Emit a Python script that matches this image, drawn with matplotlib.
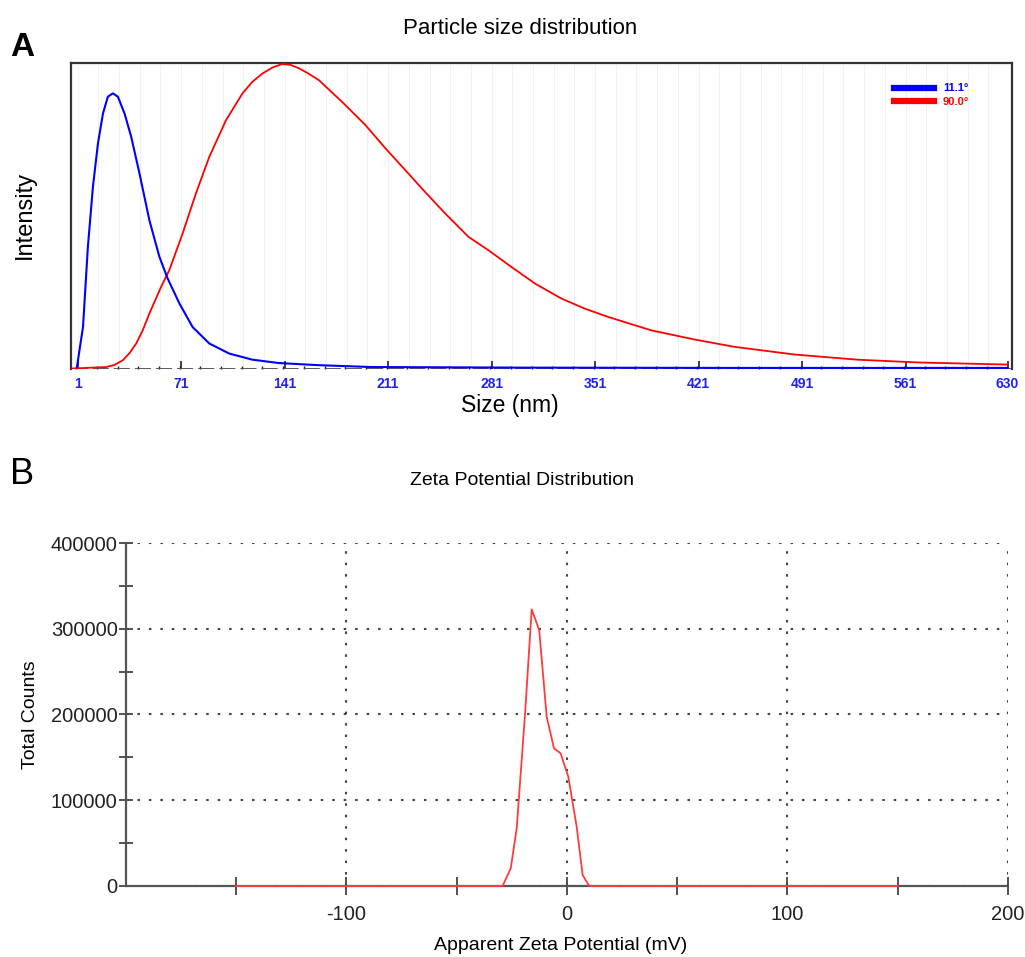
import matplotlib
matplotlib.use("Agg")
from matplotlib import pyplot as plt
from matplotlib.lines import Line2D
from matplotlib.ticker import MultipleLocator

plt.rcParams["font.family"] = ["Liberation Sans", "DejaVu Sans"]
plt.rcParams["axes.unicode_minus"] = False

# --- panel A: particle size distribution (intensity, normalised) ---
size_blue = [0.5, 4.6, 7.9, 11.3, 14.7, 18.1, 21.4, 24.8, 28.2, 32.7, 37.2, 42.8,
             49.5, 56.3, 61.9, 69.8, 78.7, 90, 103.5, 119.2, 137, 164, 199, 300, 450, 630]
int_blue = [0.005, 0.136, 0.398, 0.594, 0.736, 0.834, 0.889, 0.900, 0.889, 0.834, 0.758, 0.638,
            0.485, 0.365, 0.294, 0.213, 0.136, 0.082, 0.049, 0.029, 0.018, 0.011, 0.005, 0.003, 0.002, 0.002]

size_red = [-3, 20.3, 26, 31.5, 36, 40.6, 45, 49.5, 57.4, 63, 72, 81, 90, 101.3, 112.5, 119, 126,
            133, 139.4, 145, 150.7, 157, 164.2, 171, 179.9, 195.7, 209.2, 222.6, 233.8, 249.6,
            265.3, 278.8, 294.5, 310.3, 328.2, 344, 359.7, 388.9, 418.2, 445.2, 485.6, 528.3,
            568.8, 629.5]
int_red = [0.0, 0.005, 0.012, 0.027, 0.050, 0.082, 0.125, 0.18, 0.267, 0.322, 0.442, 0.573,
           0.692, 0.812, 0.900, 0.937, 0.965, 0.985, 0.996, 0.993, 0.982, 0.965, 0.943, 0.912,
           0.872, 0.796, 0.720, 0.649, 0.589, 0.507, 0.431, 0.387, 0.332, 0.278, 0.229, 0.196,
           0.169, 0.125, 0.095, 0.071, 0.046, 0.029, 0.020, 0.013]

size_ticks = [1, 71, 141, 211, 281, 351, 421, 491, 561, 630]
legend_labels = ["11.1°", "90.0°"]

# --- panel B: zeta potential distribution ---
zeta_mv = [-150, -29.2, -25.5, -22.8, -19.0, -16.0, -12.6, -9.2, -5.9, -2.9, 0.6, 4.4, 7.1, 10.1, 150]
zeta_counts = [0, 0, 20600, 67300, 201400, 322600, 298500, 197400, 160600, 154700,
               127500, 69200, 12800, 0, 0]

fig = plt.figure(figsize=(10.25, 9.57), dpi=100)

# ---------------- A ----------------
ax = fig.add_axes([0.0693, 0.6149, 0.918, 0.3195])
ax.plot(size_blue, int_blue, color="#0000ff", lw=1.5, zorder=4)
ax.plot(size_red, int_red, color="#ff0000", lw=1.3, zorder=3)
ax.axhline(0, color="#4a4a4a", lw=2, dashes=(5.8, 1.8), zorder=2)
ax.set_xlim(-3.5, 633)
ax.set_ylim(0, 1.0)
ax.set_yticks([])
ax.set_xticks(size_ticks)
ax.xaxis.set_minor_locator(MultipleLocator(14))
ax.set_xticklabels([str(t) for t in size_ticks], color="#2020ff", fontsize=10, fontweight="bold")
ax.tick_params(axis="x", which="major", direction="in", length=6, width=1.2, color="#222222", pad=6)
ax.tick_params(axis="x", which="minor", direction="in", length=2.5, width=1, color="#222222")
for t in range(1, 631, 14):
    ax.axvline(t, color="#f1f1f1", lw=0.8, zorder=0)
for s in ["top", "left", "right"]:
    ax.spines[s].set_color("#333333")
    ax.spines[s].set_linewidth(1.6)
ax.spines["bottom"].set_visible(False)

handles = [Line2D([], [], color="#0000ff", lw=4.5), Line2D([], [], color="#ff0000", lw=4.5)]
leg = ax.legend(handles, legend_labels, loc="upper right", bbox_to_anchor=(0.965, 0.965),
                frameon=False, handlelength=3.6, handletextpad=0.8, labelspacing=0.35,
                prop={"size": 8, "weight": "bold"})
for txt, c in zip(leg.get_texts(), ["#0000ff", "#ff0000"]):
    txt.set_color(c)

fig.text(0.507, 0.9707, "Particle size distribution", ha="center", va="center", fontsize=16)
fig.text(0.010, 0.950, "A", ha="left", va="center", fontsize=24, fontweight="bold")
fig.text(0.0244, 0.775, "Intensity", ha="center", va="center", rotation=90, fontsize=17)
fig.text(0.4976, 0.576, "Size (nm)", ha="center", va="center", fontsize=16.5)

# ---------------- B ----------------
bx = fig.add_axes([0.1229, 0.0742, 0.8605, 0.3584])
bx.plot(zeta_mv, zeta_counts, color="#ff3b3b", lw=1.3, zorder=3, clip_on=False)
bx.set_xlim(-200, 200)
bx.set_ylim(0, 400000)
bx.set_xticks([-100, 0, 100, 200])
bx.set_xticks([-150, -50, 50, 150], minor=True)
bx.set_yticks([0, 100000, 200000, 300000, 400000])
bx.set_yticks([50000, 150000, 250000, 350000], minor=True)
bx.tick_params(axis="both", which="both", direction="inout", color="#444444", width=1.3,
               labelsize=14.5, labelcolor="#222222")
bx.tick_params(axis="x", which="both", length=13, pad=7)
bx.tick_params(axis="y", which="both", length=10, pad=1)
bx.grid(True, which="major", color="#444444", lw=1.5, linestyle=(0, (1.2, 4.3)))
for s in ["top", "right"]:
    bx.spines[s].set_visible(False)
for s in ["left", "bottom"]:
    bx.spines[s].set_color("#555555")
    bx.spines[s].set_linewidth(1.6)

fig.text(0.509, 0.4984, "Zeta Potential Distribution", ha="center", va="center", fontsize=14)
fig.text(0.010, 0.5037, "B", ha="left", va="center", fontsize=26)
fig.text(0.0293, 0.2529, "Total Counts", ha="center", va="center", rotation=90, fontsize=14)
fig.text(0.547, 0.0125, "Apparent Zeta Potential (mV)", ha="center", va="center", fontsize=14)

fig.savefig("out.png", dpi=100)
